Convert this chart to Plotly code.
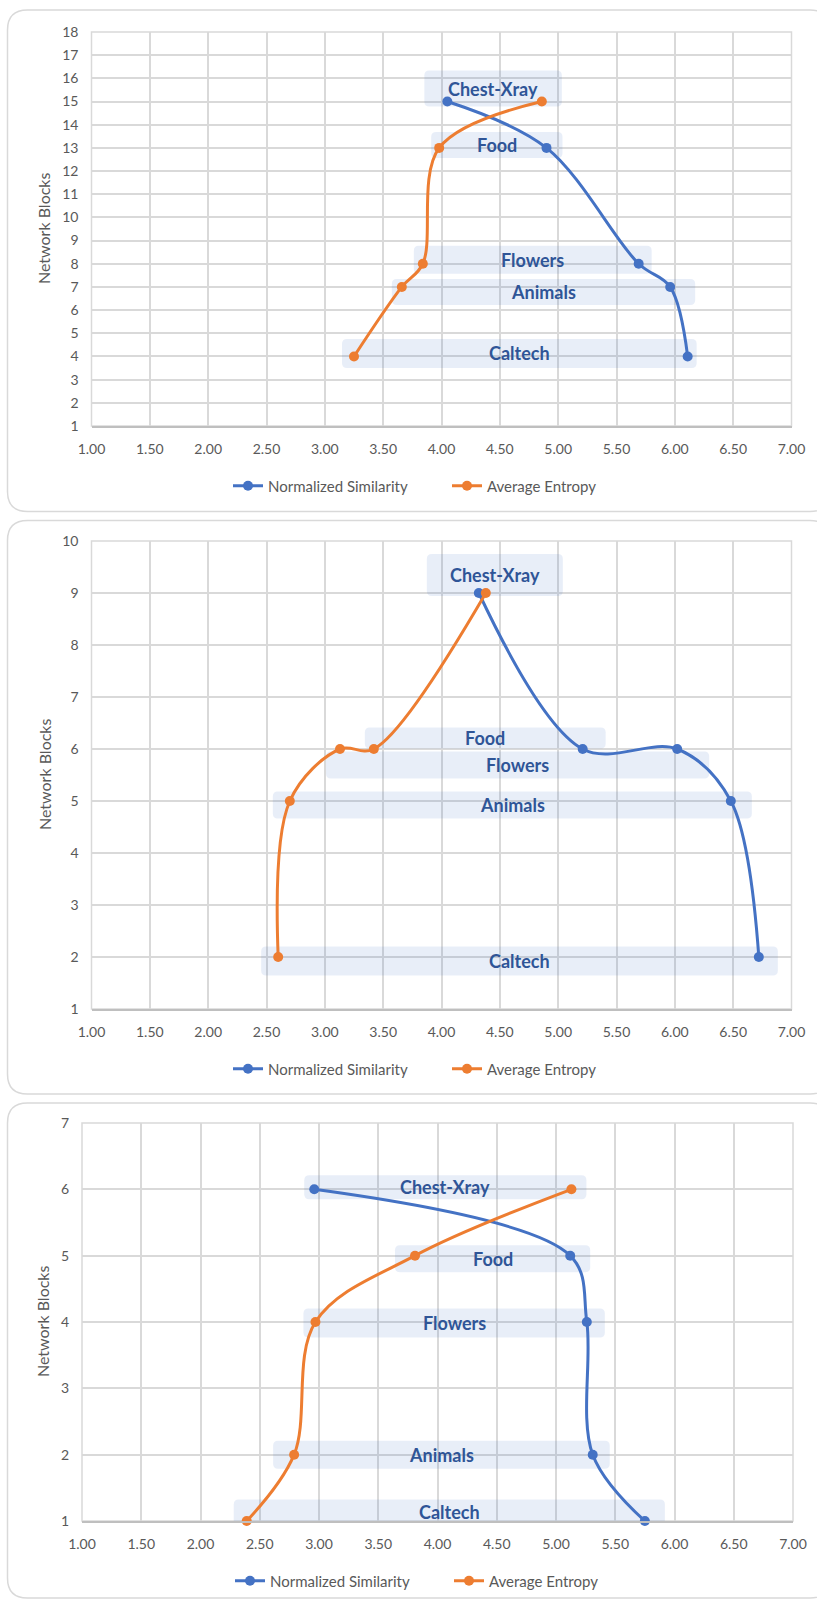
import plotly.graph_objects as go

W, H = 817, 1600

# ---- data -------------------------------------------------------------
categories = ["Caltech", "Animals", "Flowers", "Food", "Chest-Xray"]

blocks_a = [4, 7, 8, 13, 15]
similarity_a = [6.11, 5.96, 5.69, 4.90, 4.05]
entropy_a = [3.25, 3.66, 3.84, 3.98, 4.86]

blocks_b = [2, 5, 6, 6, 9]
similarity_b = [6.72, 6.48, 6.02, 5.21, 4.32]
entropy_b = [2.60, 2.70, 3.13, 3.42, 4.38]

blocks_c = [1, 2, 4, 5, 6]
similarity_c = [5.75, 5.31, 5.26, 5.12, 2.96]
entropy_c = [2.39, 2.79, 2.97, 3.81, 5.13]

x_ticks = [1.0, 1.5, 2.0, 2.5, 3.0, 3.5, 4.0, 4.5, 5.0, 5.5, 6.0, 6.5, 7.0]
y_max = [18, 10, 7]

series_names = ["Normalized Similarity", "Average Entropy"]

# ---- styling ----------------------------------------------------------
BLUE = "#4472C4"
ORANGE = "#ED7D31"
GRID = "#D9D9D9"
TEXT = "#595959"
LABEL = "#2F5597"
BAND = "rgba(68,114,196,0.12)"
FONT = "Lato"

# pixel geometry of every panel: plot box, card box, legend position
panels = [
    dict(left=91.5, right=791.5, top=32, bottom=426, card=(10, 511.5), legend_y=486, legend_x=228),
    dict(left=91.5, right=791.5, top=541, bottom=1009, card=(520.5, 1094), legend_y=1069, legend_x=228),
    dict(left=82, right=793, top=1123, bottom=1521, card=(1103, 1598), legend_y=1581, legend_x=230),
]

# label box placement, in pixels relative to the two points of a category:
# (pad left, pad right, vertical shift of centre, height)
label_boxes = [
    {"Caltech": (12, 9, -3, 29), "Animals": (10, 25, 5, 26), "Flowers": (9, 13, -4, 28),
     "Food": (8, 16, -3, 26), "Chest-Xray": (23, 20, -13, 36)},
    {"Caltech": (17, 19, 4, 29), "Animals": (17, 21, 4, 27), "Flowers": (14, 32, 16, 27),
     "Food": (9, 23, -11, 21), "Chest-Xray": (52, 77, -18, 42)},
    {"Caltech": (13, 20, -9, 25), "Animals": (21, 17, 0, 28), "Flowers": (12, 18, 1, 29),
     "Food": (20, 20, 3, 27), "Chest-Xray": (10, 15, -2, 24)},
]

datasets = [
    (blocks_a, similarity_a, entropy_a),
    (blocks_b, similarity_b, entropy_b),
    (blocks_c, similarity_c, entropy_c),
]

fig = go.Figure()
shapes = []
annotations = []


def rounded_path(x0, y0, x1, y1, rx, ry):
    return (f"M{x0 + rx},{y1} L{x1 - rx},{y1} Q{x1},{y1} {x1},{y1 - ry} "
            f"L{x1},{y0 + ry} Q{x1},{y0} {x1 - rx},{y0} L{x0 + rx},{y0} "
            f"Q{x0},{y0} {x0},{y0 + ry} L{x0},{y1 - ry} Q{x0},{y1} {x0 + rx},{y1} Z")


for i, (geo, (blocks, sim, ent)) in enumerate(zip(panels, datasets)):
    n = "" if i == 0 else str(i + 1)
    xa, ya = "x" + n, "y" + n
    legend_id = "legend" + n
    xr = (1.0, 7.0)
    yr = (1, y_max[i])
    ux = (xr[1] - xr[0]) / (geo["right"] - geo["left"])
    uy = (yr[1] - yr[0]) / (geo["bottom"] - geo["top"])

    # card behind the panel
    c0, c1 = geo["card"]
    r = 20
    shapes.append(dict(
        type="path", xref="paper", yref="paper", layer="below",
        path=rounded_path(7.5 / W, 1 - c1 / H, 830 / W, 1 - c0 / H, r / W, r / H),
        line=dict(color=GRID, width=1.5), fillcolor="white"))

    # plot frame
    shapes.append(dict(type="rect", xref=xa + " domain", yref=ya + " domain",
                       x0=0, x1=1, y0=0, y1=1, layer="below",
                       line=dict(color=GRID, width=1.5)))

    # category label boxes
    for cat, b, s, e in zip(categories, blocks, sim, ent):
        pl, pr, dy, hh = label_boxes[i][cat]
        x0 = min(s, e) - pl * ux
        x1 = max(s, e) + pr * ux
        yc = b - dy * uy
        y0 = yc - hh / 2 * uy
        y1 = yc + hh / 2 * uy
        shapes.append(dict(type="path", xref=xa, yref=ya, layer="between",
                           path=rounded_path(x0, y0, x1, y1, 5 * ux, 5 * uy),
                           fillcolor=BAND, line=dict(width=0)))
        annotations.append(dict(x=(x0 + x1) / 2, y=yc, xref=xa, yref=ya, text=cat,
                                showarrow=False, xanchor="center", yanchor="middle",
                                font=dict(family=FONT, size=18, color=LABEL, weight="bold")))

    # series
    for name, vals, color in ((series_names[0], sim, BLUE), (series_names[1], ent, ORANGE)):
        fig.add_trace(go.Scatter(
            x=vals, y=blocks, name=name, mode="lines+markers",
            line=dict(color=color, width=3, shape="spline", smoothing=1),
            marker=dict(color=color, size=10),
            xaxis=xa, yaxis=ya, legend=legend_id, cliponaxis=False))

    # axis title
    annotations.append(dict(x=44 / W if i < 2 else 42 / W,
                            y=1 - (geo["top"] + geo["bottom"]) / 2 / H,
                            xref="paper", yref="paper", text="Network Blocks",
                            xanchor="center", yanchor="middle",
                            textangle=-90, showarrow=False,
                            font=dict(family=FONT, size=16, color=TEXT)))

    axis_common = dict(showgrid=True, gridcolor=GRID, gridwidth=1.5, zeroline=False,
                       automargin=False, ticks="",
                       tickfont=dict(family=FONT, size=14, color=TEXT))
    fig.update_layout({
        "xaxis" + n: dict(axis_common, domain=[geo["left"] / W, geo["right"] / W],
                          range=list(xr), tickvals=x_ticks,
                          ticktext=[f"{v:.2f}" for v in x_ticks],
                          anchor=ya, showline=True, linecolor="#BFBFBF", linewidth=1.5,
                          ticklabelstandoff=9),
        "yaxis" + n: dict(axis_common, domain=[1 - geo["bottom"] / H, 1 - geo["top"] / H],
                          range=list(yr), dtick=1, tick0=1, anchor=xa,
                          showline=False, ticklabelstandoff=12),
        legend_id: dict(orientation="h", x=geo["legend_x"] / W, xanchor="left",
                        y=1 - geo["legend_y"] / H, yanchor="middle",
                        bgcolor="rgba(0,0,0,0)",
                        font=dict(family=FONT, size=15, color=TEXT),
                        itemwidth=30, tracegroupgap=0,
                        entrywidth=174, entrywidthmode="pixels"),
    })

fig.update_layout(
    template="none",
    width=W, height=H, margin=dict(l=0, r=0, t=0, b=0, autoexpand=False),
    paper_bgcolor="white", plot_bgcolor="rgba(0,0,0,0)",
    showlegend=True, shapes=shapes, annotations=annotations,
)

fig.write_html("out.html")
